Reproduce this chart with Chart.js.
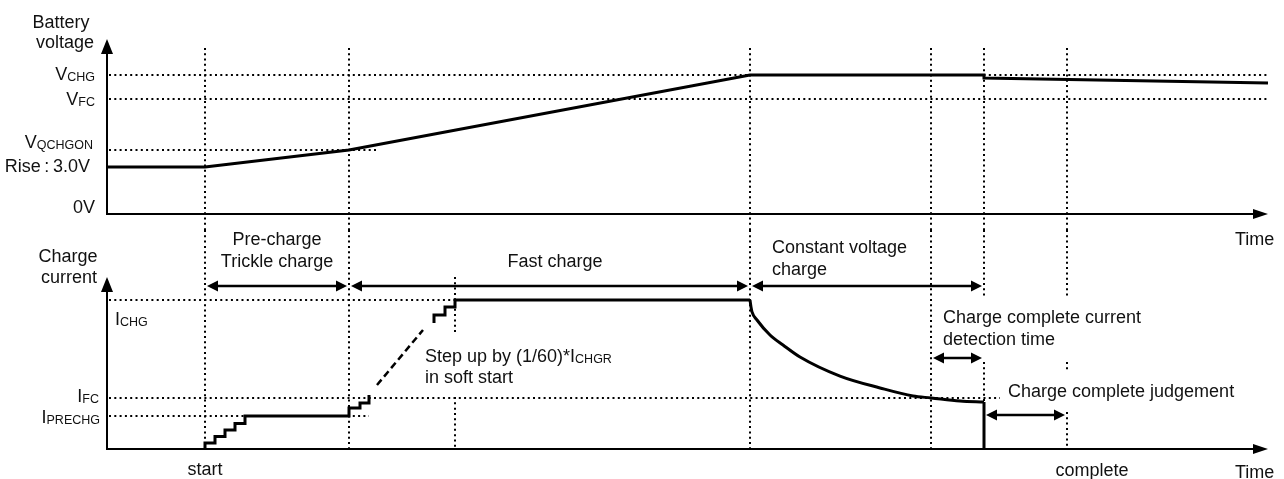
<!DOCTYPE html>
<html>
<head>
<meta charset="utf-8">
<script src="https://cdn.jsdelivr.net/npm/chart.js@4"></script>
<style>
  html, body { margin: 0; padding: 0; background: #fff; }
  body { width: 1284px; height: 479px; position: relative; overflow: hidden; }
  canvas { position: absolute; left: 0; top: 0; }
</style>
</head>
<body>
<canvas id="voltage" width="1284" height="479"></canvas>
<canvas id="current" width="1284" height="479"></canvas>
<script>
// time axis in arbitrary units, 0 = origin of both panels
const tMax = 116.1

// battery voltage (relative level, 0..100)
const vTime  = [0, 9.8, 24.2, 64.3, 87.7, 87.7, 116.1]
const vValue = [26.9, 26.9, 36.6, 79.4, 79.4, 77.7, 74.9]

// charge current (relative level, 0..100)
// pre-charge stairs + first soft start steps, horizontal then vertical
const iPreTime  = [9.8, 9.8, 10.8, 11.8, 12.8, 13.8, 24.2, 25.3, 26.2]
const iPreValue = [0, 3.5, 7.2, 11.0, 14.8, 19.2, 23.8, 26.7, 31.4]
// dashed part of the soft start
const iSoftTime  = [27.0, 31.6]
const iSoftValue = [37.2, 69.2]
// last soft start steps + fast charge
const iFastTime  = [32.7, 32.7, 33.8, 34.8, 64.3]
const iFastValue = [73.3, 77.9, 82.6, 86.6, 86.6]
// constant voltage decay
const iCvTime  = [64.3, 64.4, 64.5, 65.0, 66.3, 67.6, 69.3, 73.3, 77.3, 80.6, 82.4, 85.3, 87.7]
const iCvValue = [86.6, 82.6, 79.7, 75.0, 66.3, 60.5, 53.5, 42.4, 35.5, 30.8, 29.7, 27.9, 27.3]
const iEndTime  = [87.7, 87.7]
const iEndValue = [27.3, 0]

// reference levels
const vLevelNames = ['CHG', 'FC', 'QCHGON']
const vLevels     = [79.4, 65.7, 36.6]
const vLevelEnds  = [116.1, 116.1, 27.0]
const vRise = 26.9
const iLevelNames = ['CHG', 'FC', 'PRECHG']
const iLevels     = [86.6, 29.7, 19.2]
const iLevelEnds  = [64.3, 89.3, 26.2]

// phase boundaries
const markers = [9.8, 24.2, 64.3, 82.4, 87.7, 96.0]
const softEnd = 34.8
// gaps in the markers of the current panel (current units)
const markerGaps = [[], [], [], [], [[88.4, 50.6]], [[88.4, 50.6], [45.9, 21.5]]]
// [from, to, level] double arrows in the current panel
const phaseArrows = [[9.8, 24.2, 94.8], [24.2, 64.3, 94.8], [64.3, 87.7, 94.8], [82.4, 87.7, 52.9], [87.7, 96.0, 19.8]]

const SANS = '"Liberation Sans", Arial, sans-serif'
const INK = '#000'
const SPLIT = 230

function seg(ctx, x1, y1, x2, y2) {
    ctx.beginPath()
    ctx.moveTo(x1, y1)
    ctx.lineTo(x2, y2)
    ctx.stroke()
}

function head(ctx, x, y, dx, dy, len, half) {
    let bx = x - dx * len
    let by = y - dy * len
    ctx.beginPath()
    ctx.moveTo(x, y)
    ctx.lineTo(bx - dy * half, by + dx * half)
    ctx.lineTo(bx + dy * half, by - dx * half)
    ctx.closePath()
    ctx.fill()
}

function dots(ctx) {
    ctx.strokeStyle = INK
    ctx.lineWidth = 2
    ctx.setLineDash([2, 3.3])
}

function axes(ctx, a) {
    ctx.save()
    ctx.strokeStyle = INK
    ctx.fillStyle = INK
    ctx.lineWidth = 2
    seg(ctx, a.left, a.bottom, a.left, a.top + 10)
    seg(ctx, a.left - 1, a.bottom, a.right - 10, a.bottom)
    head(ctx, a.left, a.top, 0, -1, 15, 6)
    head(ctx, a.right, a.bottom, 1, 0, 15, 5)
    ctx.restore()
}

// text with optional subscript, 18px body / 12.5px subscript
function label(ctx, main, sub, x, y, align) {
    ctx.font = '18px ' + SANS
    let w1 = ctx.measureText(main).width
    ctx.font = '12.5px ' + SANS
    let w2 = sub ? ctx.measureText(sub).width : 0
    let x0 = x
    if (align === 'right') x0 = x - w1 - w2
    if (align === 'center') x0 = x - (w1 + w2) / 2
    ctx.fillStyle = '#111'
    ctx.textAlign = 'left'
    ctx.textBaseline = 'alphabetic'
    ctx.font = '18px ' + SANS
    ctx.fillText(main, x0, y)
    if (sub) {
        ctx.font = '12.5px ' + SANS
        ctx.fillText(sub, x0 + w1, y + 1)
    }
}

function pts(xs, ys) {
    return xs.map((x, i) => ({ x: x, y: ys[i] }))
}

function line(xs, ys, extra) {
    return Object.assign({
        data: pts(xs, ys),
        borderColor: INK,
        borderWidth: 3,
        pointRadius: 0,
        fill: false,
        tension: 0,
        borderJoinStyle: 'miter',
        borderCapStyle: 'butt',
        clip: false
    }, extra || {})
}

const voltagePlugin = {
    id: 'voltageDecor',
    beforeDatasetsDraw(chart) {
        const { ctx, chartArea: a, scales: { x, y } } = chart
        axes(ctx, a)
        ctx.save()
        dots(ctx)
        vLevels.forEach((v, i) => {
            let py = Math.round(y.getPixelForValue(v))
            seg(ctx, a.left + 2, py, x.getPixelForValue(vLevelEnds[i]), py)
        })
        markers.forEach(t => {
            let px = Math.round(x.getPixelForValue(t))
            seg(ctx, px, y.getPixelForValue(94.9), px, SPLIT)
        })
        ctx.restore()
    },
    afterDatasetsDraw(chart) {
        const { ctx, chartArea: a, scales: { x, y } } = chart
        ctx.save()
        label(ctx, 'Battery', '', 61, 28, 'center')
        label(ctx, 'voltage', '', 65, 48, 'center')
        label(ctx, 'V', vLevelNames[0], a.left - 12, y.getPixelForValue(vLevels[0]) + 5, 'right')
        label(ctx, 'V', vLevelNames[1], a.left - 12, y.getPixelForValue(vLevels[1]) + 6, 'right')
        label(ctx, 'V', vLevelNames[2], a.left - 14, y.getPixelForValue(vLevels[2]) - 2, 'right')
        label(ctx, 'Rise\u2009:\u20093.0V', '', a.left - 17, y.getPixelForValue(vRise) + 5, 'right')
        label(ctx, '0V', '', a.left - 12, a.bottom - 1, 'right')
        label(ctx, 'Time', '', 1235, 245, 'left')
        ctx.restore()
    }
}

const currentPlugin = {
    id: 'currentDecor',
    beforeDatasetsDraw(chart) {
        const { ctx, chartArea: a, scales: { x, y } } = chart
        axes(ctx, a)
        ctx.save()
        dots(ctx)
        iLevels.forEach((v, i) => {
            let py = Math.round(y.getPixelForValue(v))
            seg(ctx, a.left + 2, py, x.getPixelForValue(iLevelEnds[i]), py)
        })
        markers.forEach((t, i) => {
            let px = Math.round(x.getPixelForValue(t))
            let top = SPLIT
            markerGaps[i].forEach(g => {
                seg(ctx, px, top, px, y.getPixelForValue(g[0]))
                top = y.getPixelForValue(g[1])
            })
            seg(ctx, px, top, px, a.bottom)
        })
        let sx = Math.round(x.getPixelForValue(softEnd))
        seg(ctx, sx, a.top, sx, y.getPixelForValue(68.0))
        seg(ctx, sx, y.getPixelForValue(30.2), sx, a.bottom)
        ctx.restore()

        ctx.save()
        ctx.strokeStyle = INK
        ctx.fillStyle = INK
        ctx.lineWidth = 2.5
        phaseArrows.forEach(p => {
            let x1 = x.getPixelForValue(p[0]) + 2
            let x2 = x.getPixelForValue(p[1]) - 2
            let py = Math.round(y.getPixelForValue(p[2]))
            seg(ctx, x1 + 8, py, x2 - 8, py)
            head(ctx, x1, py, -1, 0, 11, 5.5)
            head(ctx, x2, py, 1, 0, 11, 5.5)
        })
        ctx.restore()
    },
    afterDatasetsDraw(chart) {
        const { ctx, chartArea: a, scales: { x, y } } = chart
        ctx.save()
        label(ctx, 'Charge', '', 68, 262, 'center')
        label(ctx, 'current', '', 69, 283, 'center')
        label(ctx, 'I', iLevelNames[0], a.left + 8, y.getPixelForValue(iLevels[0]) + 25, 'left')
        label(ctx, 'I', iLevelNames[1], a.left - 8, y.getPixelForValue(iLevels[1]) + 4, 'right')
        label(ctx, 'I', iLevelNames[2], a.left - 7, y.getPixelForValue(iLevels[2]) + 7, 'right')

        label(ctx, 'Pre-charge', '', x.getPixelForValue(17.0), 245, 'center')
        label(ctx, 'Trickle charge', '', x.getPixelForValue(17.0), 267, 'center')
        label(ctx, 'Fast charge', '', x.getPixelForValue(44.8), 267, 'center')
        label(ctx, 'Constant voltage', '', x.getPixelForValue(66.5), 253, 'left')
        label(ctx, 'charge', '', x.getPixelForValue(66.5), 275, 'left')
        label(ctx, 'Charge complete current', '', x.getPixelForValue(83.6), 323, 'left')
        label(ctx, 'detection time', '', x.getPixelForValue(83.6), 345, 'left')
        label(ctx, 'Charge complete judgement', '', x.getPixelForValue(90.1), 397, 'left')
        label(ctx, 'Step up by (1/60)*I', 'CHGR', x.getPixelForValue(31.8), 362, 'left')
        label(ctx, 'in soft start', '', x.getPixelForValue(31.8), 383, 'left')

        label(ctx, 'start', '', x.getPixelForValue(markers[0]), 475, 'center')
        label(ctx, 'complete', '', x.getPixelForValue(98.5), 476, 'center')
        label(ctx, 'Time', '', 1235, 478, 'left')
        ctx.restore()
    }
}

function panel(id, datasets, padding, plugin) {
    return new Chart(document.getElementById(id), {
        type: 'line',
        data: { datasets: datasets },
        options: {
            responsive: false,
            animation: false,
            events: [],
            layout: { padding: padding },
            plugins: { legend: { display: false }, tooltip: { enabled: false } },
            scales: {
                x: { type: 'linear', min: 0, max: tMax, display: false },
                y: { type: 'linear', min: 0, max: 100, display: false }
            }
        },
        plugins: [plugin]
    })
}

panel('voltage', [
    line(vTime, vValue)
], { left: 107, right: 16, top: 39, bottom: 265 }, voltagePlugin)

// Chart.js 'before' draws the horizontal run first, then the riser
panel('current', [
    line(iPreTime, iPreValue, { stepped: 'before' }),
    line(iFastTime, iFastValue, { stepped: 'before' }),
    line(iCvTime, iCvValue, { cubicInterpolationMode: 'monotone' }),
    line(iEndTime, iEndValue),
    line(iSoftTime, iSoftValue, { borderWidth: 2.5, borderDash: [7, 4] })
], { left: 107, right: 16, top: 277, bottom: 30 }, currentPlugin)
</script>
</body>
</html>
